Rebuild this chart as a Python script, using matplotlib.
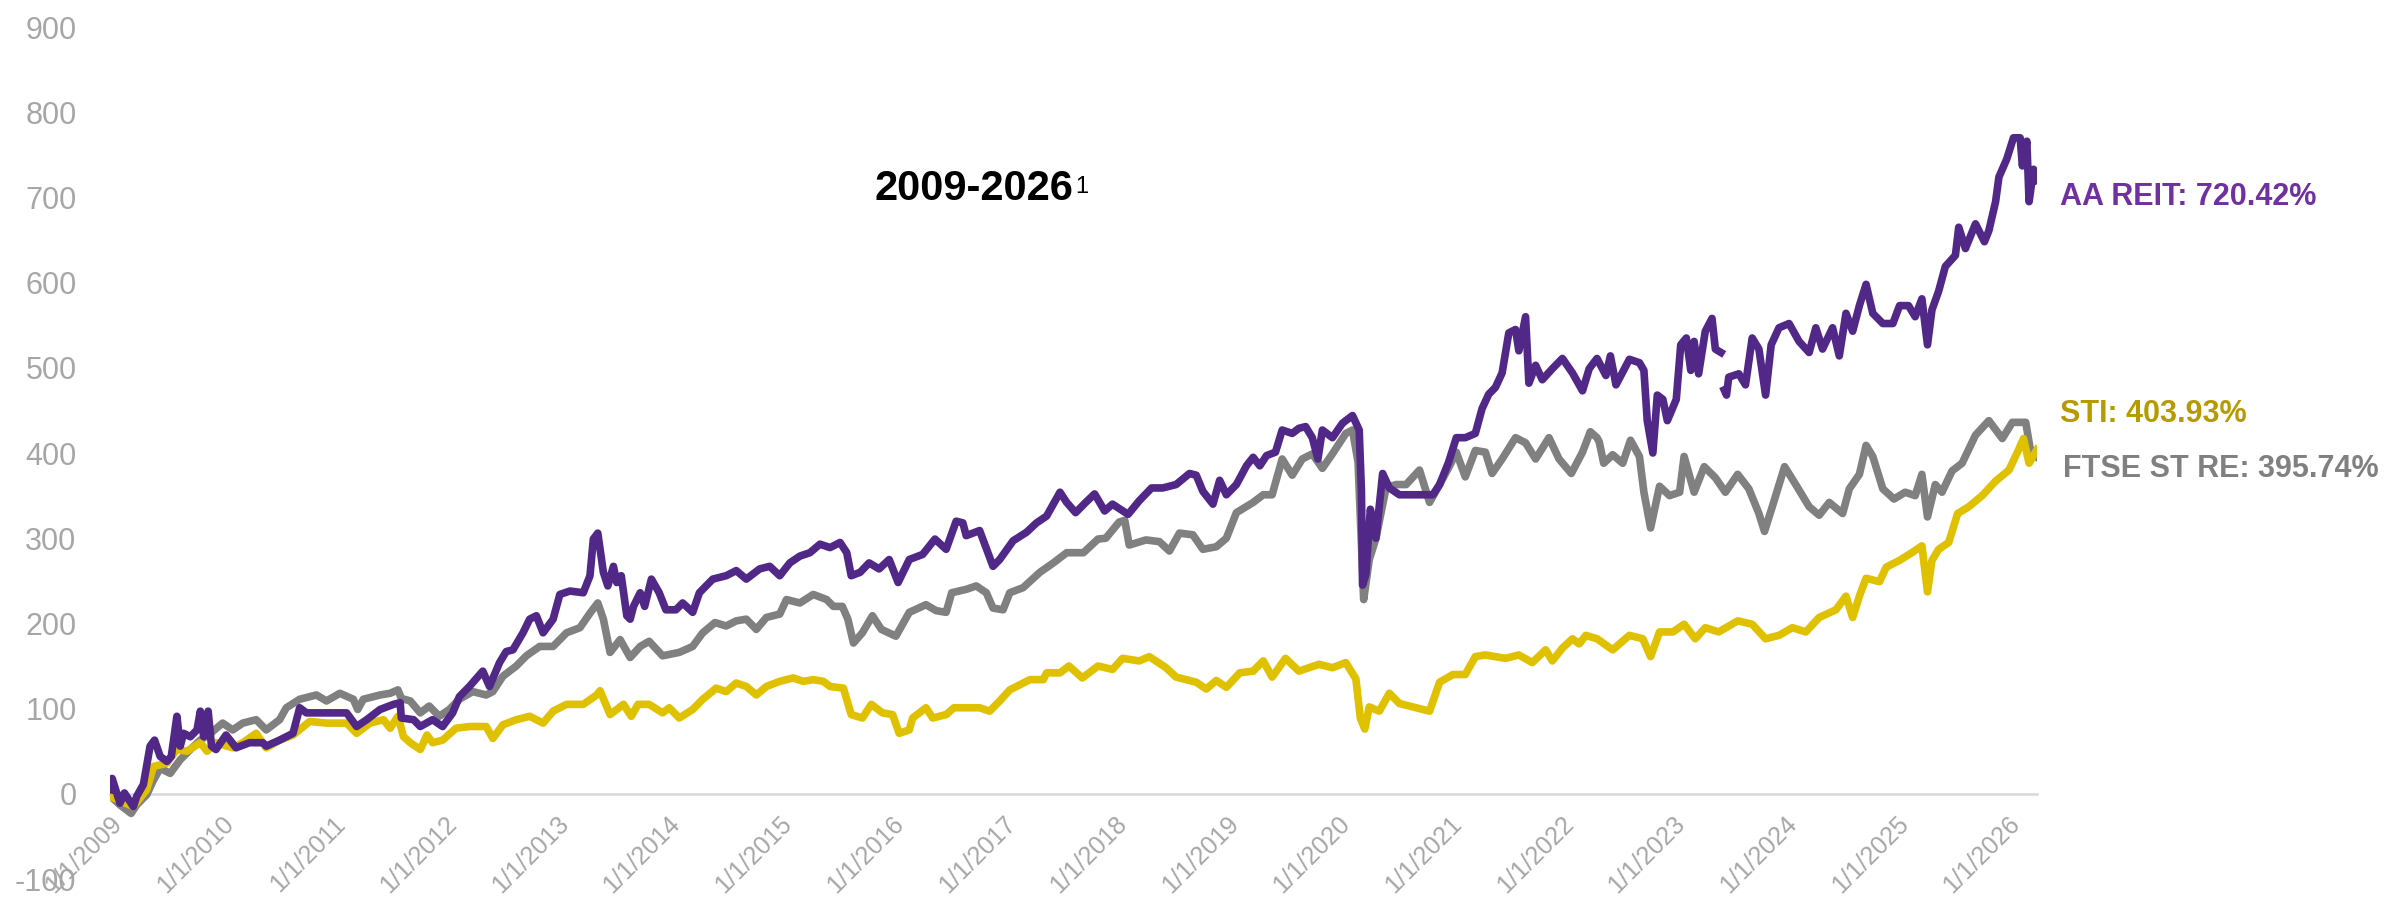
import numpy as np
import matplotlib
matplotlib.use('Agg')
import matplotlib.pyplot as plt

plt.rcParams['font.family'] = ['Liberation Sans', 'DejaVu Sans']

# cumulative total return (%), x = decimal year
reit_t = [2009.00, 2009.02, 2009.09, 2009.13, 2009.21, 2009.24, 2009.30, 2009.36, 2009.40, 2009.45,
          2009.51, 2009.55, 2009.60, 2009.63, 2009.66, 2009.72, 2009.78, 2009.81, 2009.84, 2009.88,
          2009.91, 2009.95, 2010.04, 2010.13, 2010.25, 2010.37, 2010.40, 2010.52, 2010.64, 2010.70,
          2010.76, 2010.88, 2011.00, 2011.12, 2011.21, 2011.30, 2011.42, 2011.54, 2011.60, 2011.61,
          2011.72, 2011.78, 2011.89, 2011.98, 2012.07, 2012.13, 2012.22, 2012.34, 2012.40, 2012.49,
          2012.55, 2012.61, 2012.70, 2012.76, 2012.82, 2012.88, 2012.97, 2013.03, 2013.12, 2013.24,
          2013.30, 2013.33, 2013.37, 2013.42, 2013.46, 2013.51, 2013.54, 2013.58, 2013.63, 2013.66,
          2013.69, 2013.75, 2013.79, 2013.85, 2013.92, 2013.98, 2014.07, 2014.13, 2014.22, 2014.28,
          2014.40, 2014.52, 2014.61, 2014.70, 2014.82, 2014.91, 2015.00, 2015.09, 2015.18, 2015.27,
          2015.36, 2015.45, 2015.54, 2015.60, 2015.64, 2015.72, 2015.80, 2015.89, 2015.98, 2016.06,
          2016.16, 2016.28, 2016.39, 2016.49, 2016.58, 2016.64, 2016.67, 2016.79, 2016.91, 2016.97,
          2017.09, 2017.21, 2017.30, 2017.39, 2017.51, 2017.57, 2017.65, 2017.74, 2017.82, 2017.91,
          2017.98, 2018.12, 2018.22, 2018.33, 2018.43, 2018.55, 2018.67, 2018.73, 2018.79, 2018.88,
          2018.94, 2019.00, 2019.09, 2019.18, 2019.24, 2019.30, 2019.36, 2019.44, 2019.50, 2019.59,
          2019.65, 2019.71, 2019.77, 2019.82, 2019.86, 2019.95, 2020.04, 2020.13, 2020.19, 2020.21,
          2020.22, 2020.25, 2020.29, 2020.34, 2020.40, 2020.46, 2020.55, 2020.64, 2020.76, 2020.85,
          2020.91, 2020.99, 2021.06, 2021.14, 2021.23, 2021.29, 2021.35, 2021.41, 2021.47, 2021.53,
          2021.59, 2021.62, 2021.68, 2021.71, 2021.77, 2021.83, 2021.92, 2022.01, 2022.10, 2022.19,
          2022.25, 2022.32, 2022.40, 2022.44, 2022.49, 2022.61, 2022.70, 2022.74, 2022.77, 2022.82,
          2022.86, 2022.91, 2022.95, 2023.03, 2023.07, 2023.12, 2023.16, 2023.19, 2023.23, 2023.29,
          2023.35, 2023.38, 2023.43, 2023.45, 2023.46, 2023.48, 2023.50, 2023.59, 2023.65, 2023.71,
          2023.77, 2023.83, 2023.88, 2023.95, 2024.04, 2024.13, 2024.22, 2024.28, 2024.34, 2024.43,
          2024.49, 2024.55, 2024.61, 2024.67, 2024.73, 2024.79, 2024.88, 2024.97, 2025.03, 2025.11,
          2025.17, 2025.23, 2025.28, 2025.32, 2025.38, 2025.44, 2025.53, 2025.56, 2025.62, 2025.71,
          2025.79, 2025.83, 2025.89, 2025.92, 2025.99, 2026.05, 2026.11, 2026.13, 2026.17, 2026.19,
          2026.23, 2026.26]
reit_v = [5, 18, -11, 1, -15, -3, 11, 56, 63, 44,
          38, 44, 91, 56, 71, 67, 75, 97, 67, 97,
          56, 52, 69, 54, 60, 60, 56, 63, 71, 101,
          95, 95, 95, 95, 79, 87, 99, 105, 107, 89,
          87, 79, 87, 79, 95, 114, 126, 144, 126, 154,
          167, 169, 189, 205, 209, 189, 205, 234, 238, 236,
          256, 299, 306, 260, 244, 267, 248, 256, 209, 205,
          220, 236, 220, 252, 236, 216, 216, 224, 213, 236,
          252, 256, 262, 252, 264, 267, 256, 271, 279, 283,
          293, 289, 295, 283, 256, 260, 271, 264, 275, 248,
          275, 281, 299, 287, 320, 318, 303, 309, 267, 275,
          297, 307, 318, 326, 354, 342, 330, 342, 352, 332,
          340, 328, 344, 359, 359, 363, 376, 374, 355, 340,
          368, 351, 363, 385, 395, 385, 397, 401, 427, 423,
          429, 431, 418, 393, 427, 418, 435, 444, 427, 355,
          245, 258, 334, 300, 376, 359, 351, 351, 351, 351,
          363, 389, 418, 418, 423, 452, 469, 477, 494, 541,
          545, 520, 560, 482, 503, 486, 499, 511, 494, 473,
          499, 511, 491, 514, 480, 510, 506, 497, 438, 400,
          468, 463, 438, 463, 527, 535, 497, 531, 493, 543,
          558, 522, 518, np.nan, 474, 468, 489, 493, 480, 535,
          522, 468, 527, 547, 552, 531, 518, 547, 522, 547,
          514, 564, 543, 573, 598, 564, 552, 552, 573, 573,
          560, 581, 527, 568, 590, 619, 632, 665, 640, 669,
          648, 661, 695, 724, 745, 770, 770, 737, 766, 695,
          733, 720]

ftse_t = [2009.00, 2009.09, 2009.19, 2009.24, 2009.33, 2009.39, 2009.45, 2009.54, 2009.63, 2009.72,
          2009.81, 2009.90, 2010.01, 2010.10, 2010.19, 2010.31, 2010.40, 2010.52, 2010.58, 2010.70,
          2010.85, 2010.94, 2011.06, 2011.18, 2011.22, 2011.27, 2011.42, 2011.51, 2011.58, 2011.61,
          2011.69, 2011.78, 2011.86, 2011.95, 2012.04, 2012.13, 2012.25, 2012.37, 2012.43, 2012.52,
          2012.64, 2012.73, 2012.85, 2012.97, 2013.09, 2013.21, 2013.30, 2013.37, 2013.42, 2013.48,
          2013.57, 2013.66, 2013.75, 2013.83, 2013.95, 2014.10, 2014.22, 2014.31, 2014.42, 2014.52,
          2014.61, 2014.70, 2014.79, 2014.88, 2015.00, 2015.06, 2015.18, 2015.30, 2015.42, 2015.48,
          2015.56, 2015.61, 2015.66, 2015.74, 2015.83, 2015.91, 2016.04, 2016.16, 2016.31, 2016.40,
          2016.49, 2016.54, 2016.67, 2016.76, 2016.85, 2016.91, 2017.00, 2017.06, 2017.18, 2017.33,
          2017.45, 2017.57, 2017.72, 2017.85, 2017.92, 2018.04, 2018.09, 2018.13, 2018.28, 2018.40,
          2018.49, 2018.58, 2018.70, 2018.79, 2018.91, 2019.00, 2019.09, 2019.24, 2019.33, 2019.41,
          2019.50, 2019.59, 2019.68, 2019.77, 2019.86, 2019.95, 2020.07, 2020.13, 2020.18, 2020.23,
          2020.28, 2020.34, 2020.43, 2020.52, 2020.61, 2020.73, 2020.82, 2020.91, 2021.00, 2021.06,
          2021.14, 2021.23, 2021.32, 2021.38, 2021.47, 2021.59, 2021.68, 2021.77, 2021.89, 2021.98,
          2022.09, 2022.19, 2022.26, 2022.32, 2022.34, 2022.38, 2022.46, 2022.55, 2022.62, 2022.70,
          2022.74, 2022.80, 2022.88, 2022.97, 2023.06, 2023.10, 2023.19, 2023.28, 2023.38, 2023.47,
          2023.58, 2023.68, 2023.77, 2023.82, 2023.89, 2024.00, 2024.10, 2024.22, 2024.31, 2024.40,
          2024.52, 2024.58, 2024.67, 2024.73, 2024.79, 2024.88, 2024.98, 2025.08, 2025.17, 2025.23,
          2025.28, 2025.35, 2025.41, 2025.50, 2025.59, 2025.71, 2025.83, 2025.95, 2026.04, 2026.16,
          2026.20, 2026.26]
ftse_v = [-2, -13, -23, -13, -1, 16, 30, 24, 40, 52,
          63, 71, 83, 75, 83, 87, 75, 87, 101, 111,
          116, 109, 118, 111, 99, 111, 116, 118, 122, 112,
          109, 95, 103, 91, 99, 111, 120, 116, 120, 138,
          150, 162, 173, 173, 189, 195, 212, 224, 205, 166,
          181, 160, 173, 179, 162, 166, 173, 189, 201, 197,
          203, 205, 193, 207, 211, 228, 224, 234, 228, 220,
          220, 205, 177, 189, 209, 193, 185, 213, 222, 215,
          213, 236, 240, 244, 236, 218, 216, 236, 242, 260,
          271, 283, 283, 299, 300, 319, 321, 292, 298, 296,
          285, 306, 304, 287, 290, 300, 330, 342, 351, 351,
          393, 374, 393, 399, 382, 399, 423, 427, 389, 228,
          275, 300, 359, 363, 363, 380, 342, 363, 385, 401,
          372, 403, 401, 376, 393, 418, 412, 393, 418, 393,
          376, 401, 425, 418, 413, 388, 398, 388, 415, 396,
          354, 312, 361, 350, 354, 396, 354, 384, 371, 354,
          375, 358, 329, 308, 337, 384, 363, 337, 327, 342,
          329, 358, 375, 409, 396, 358, 346, 354, 350, 375,
          325, 363, 354, 379, 388, 421, 438, 417, 436, 436,
          405, 396]

sti_t = [2009.00, 2009.21, 2009.33, 2009.39, 2009.51, 2009.60, 2009.69, 2009.81, 2009.87, 2009.95,
         2010.10, 2010.19, 2010.31, 2010.40, 2010.52, 2010.64, 2010.79, 2010.94, 2011.12, 2011.21,
         2011.33, 2011.45, 2011.51, 2011.58, 2011.63, 2011.69, 2011.78, 2011.84, 2011.89, 2011.98,
         2012.10, 2012.22, 2012.37, 2012.43, 2012.52, 2012.64, 2012.76, 2012.88, 2012.97, 2013.09,
         2013.24, 2013.36, 2013.39, 2013.48, 2013.60, 2013.67, 2013.73, 2013.83, 2013.95, 2014.01,
         2014.10, 2014.22, 2014.31, 2014.43, 2014.52, 2014.61, 2014.70, 2014.79, 2014.88, 2015.00,
         2015.12, 2015.21, 2015.30, 2015.39, 2015.45, 2015.57, 2015.64, 2015.74, 2015.82, 2015.92,
         2016.01, 2016.07, 2016.16, 2016.19, 2016.31, 2016.37, 2016.49, 2016.56, 2016.79, 2016.88,
         2016.97, 2017.06, 2017.24, 2017.36, 2017.39, 2017.51, 2017.59, 2017.71, 2017.85, 2017.98,
         2018.07, 2018.22, 2018.31, 2018.46, 2018.55, 2018.73, 2018.82, 2018.91, 2019.00, 2019.12,
         2019.24, 2019.33, 2019.41, 2019.53, 2019.65, 2019.83, 2019.95, 2020.07, 2020.16, 2020.20,
         2020.24, 2020.28, 2020.37, 2020.46, 2020.55, 2020.67, 2020.82, 2020.91, 2021.03, 2021.14,
         2021.23, 2021.32, 2021.50, 2021.62, 2021.74, 2021.86, 2021.92, 2022.01, 2022.10, 2022.16,
         2022.22, 2022.32, 2022.46, 2022.61, 2022.73, 2022.80, 2022.88, 2023.00, 2023.10, 2023.20,
         2023.29, 2023.41, 2023.58, 2023.71, 2023.83, 2023.95, 2024.07, 2024.19, 2024.31, 2024.46,
         2024.55, 2024.61, 2024.67, 2024.73, 2024.85, 2024.91, 2025.03, 2025.14, 2025.23, 2025.28,
         2025.32, 2025.38, 2025.47, 2025.55, 2025.65, 2025.77, 2025.89, 2026.01, 2026.10, 2026.14,
         2026.19, 2026.26]
sti_v = [-3, -15, 5, 32, 36, 52, 50, 60, 50, 60,
         54, 60, 71, 54, 63, 69, 85, 83, 83, 71,
         83, 87, 77, 91, 67, 60, 52, 69, 60, 63,
         77, 79, 79, 65, 81, 87, 91, 83, 97, 105,
         105, 116, 121, 93, 105, 91, 105, 105, 95, 101,
         89, 99, 111, 124, 120, 130, 126, 116, 126, 132,
         136, 132, 134, 132, 126, 124, 93, 89, 105, 95,
         93, 71, 75, 89, 101, 89, 93, 101, 101, 97,
         109, 122, 134, 134, 142, 142, 150, 136, 150, 146,
         159, 156, 161, 148, 137, 131, 123, 133, 125, 142,
         144, 156, 137, 159, 144, 152, 148, 154, 135, 89,
         76, 102, 97, 118, 106, 102, 97, 131, 140, 140,
         161, 163, 159, 163, 154, 169, 156, 171, 182, 176,
         186, 182, 169, 186, 182, 161, 190, 190, 199, 182,
         195, 190, 203, 199, 182, 186, 195, 190, 207, 216,
         232, 207, 232, 253, 249, 266, 274, 283, 291, 237,
         274, 287, 295, 329, 337, 350, 367, 380, 405, 417,
         388, 404]

years = list(range(2009, 2027))
year_labels = ['1/1/{0}'.format(y) for y in years]
yticks = list(range(-100, 1000, 100))

end_labels = ['AA REIT: 720.42%', 'STI: 403.93%', 'FTSE ST RE: 395.74%']

purple = '#512888'
gold = '#E0C100'
grey = '#808080'
tick_grey = '#A6A6A6'

fig = plt.figure(figsize=(23.84, 9.01), dpi=100)
ax = fig.add_axes([0.0461, 0.0244, 0.8083, 0.9456])

ax.plot(ftse_t, ftse_v, color=grey, lw=5.5, solid_joinstyle='round', zorder=2)
ax.plot(sti_t, sti_v, color=gold, lw=5.5, solid_joinstyle='round', zorder=3)
ax.plot(reit_t, reit_v, color=purple, lw=5.5, solid_joinstyle='round', zorder=4)

ax.set_xlim(2009.0, 2026.26)
ax.set_ylim(-100, 900)

for s in ['top', 'right', 'left']:
    ax.spines[s].set_visible(False)
ax.spines['bottom'].set_position(('data', 0))
ax.spines['bottom'].set_color('#D9D9D9')
ax.spines['bottom'].set_linewidth(1.8)
ax.spines['bottom'].set_zorder(1)

ax.set_yticks(yticks)
ax.set_yticklabels([str(v) for v in yticks])
ax.set_xticks(years)
ax.set_xticklabels(year_labels, rotation=45, ha='right', rotation_mode='anchor')
ax.tick_params(axis='y', length=0, labelsize=22, labelcolor=tick_grey, pad=24)
ax.tick_params(axis='x', length=0, labelsize=18, labelcolor=tick_grey, pad=13)

# end-of-series labels
ax.text(2026.47, 700, end_labels[0], color='#7030A0', fontsize=22, fontweight='bold',
        va='center', ha='left', clip_on=False)
ax.text(2026.47, 446, end_labels[1], color='#B59B00', fontsize=22, fontweight='bold',
        va='center', ha='left', clip_on=False)
ax.text(2026.49, 381, end_labels[2], color=grey, fontsize=22, fontweight='bold',
        va='center', ha='left', clip_on=False)

title = ax.text(2015.85, 710, '2009-2026', color='black', fontsize=30, fontweight='bold',
                va='center', ha='left')
ax.annotate('1', xy=(1, 1), xycoords=title, xytext=(1, -5), textcoords='offset points',
            fontsize=17, va='top', ha='left', color='black')

fig.savefig('out.png', dpi=100)
